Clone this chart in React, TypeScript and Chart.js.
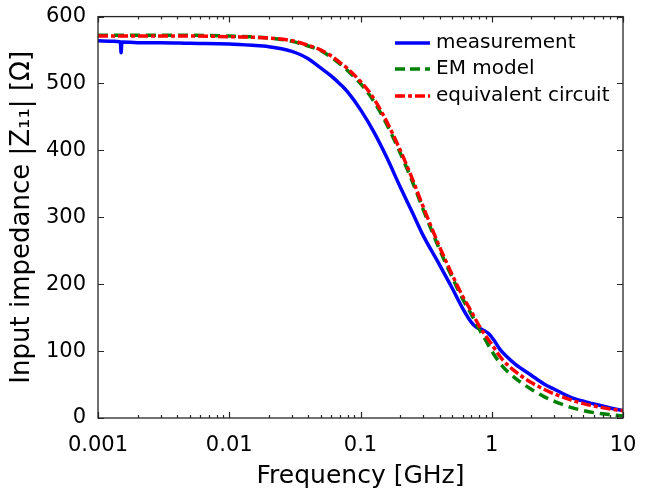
import React, { useEffect, useRef } from "react";
import { Chart, registerables } from "chart.js";

Chart.register(...registerables);

// ---- data ----
const measFreq = [0.001, 0.0013, 0.00148, 0.0015, 0.00152, 0.002, 0.003, 0.005, 0.01, 0.015, 0.02, 0.025, 0.03, 0.035, 0.04, 0.05, 0.06, 0.07, 0.08, 0.1, 0.126, 0.158, 0.2, 0.25, 0.3, 0.4, 0.5, 0.6, 0.7, 0.76, 0.85, 0.95, 1.05, 1.15, 1.3, 1.5, 2.0, 2.5, 3.0, 4.0, 5.0, 6.0, 8.0, 10];
const measZ = [564, 563, 562, 546, 562, 561, 561, 560, 559, 557, 555, 552, 548, 543, 537, 523, 511, 499, 487, 461, 428, 390, 346, 306, 273, 229, 194, 164, 143, 136, 132, 126, 115, 103, 92, 81, 64, 51, 43, 31, 25, 21, 15, 11];

const emFreq = [0.001, 0.005, 0.01, 0.02, 0.03, 0.04, 0.05, 0.06, 0.07, 0.08, 0.1, 0.12, 0.15, 0.2, 0.25, 0.3, 0.4, 0.5, 0.6, 0.7, 0.8, 0.9, 1.0, 1.2, 1.5, 2.0, 2.5, 3.0, 4.0, 5.0, 6.5, 8.0, 10];
const emZ = [572, 572, 571, 568, 563, 556, 549, 539, 529, 519, 500, 480, 448, 397, 352, 312, 252, 210, 178, 155, 133, 116, 100, 78, 60, 43, 32, 25, 16, 11, 7, 5, 3];

const eqFreq = [0.001, 0.005, 0.01, 0.02, 0.03, 0.04, 0.05, 0.06, 0.07, 0.08, 0.1, 0.12, 0.15, 0.2, 0.25, 0.3, 0.4, 0.5, 0.6, 0.7, 0.8, 1.0, 1.2, 1.5, 2.0, 2.5, 3.0, 4.0, 5.0, 6.5, 8.0, 10];
const eqZ = [571, 571, 570, 568, 564, 557, 550, 541, 531, 522, 503, 484, 452, 401, 356, 316, 256, 214, 182, 159, 138, 110, 88, 70, 53, 43, 36, 27, 21.5, 16.5, 13.5, 11];

const xTickValues = [0.001, 0.01, 0.1, 1, 10];
const xTickLabels = ["0.001", "0.01", "0.1", "1", "10"];
const yTickValues = [0, 100, 200, 300, 400, 500, 600];

const seriesNames = ["measurement", "EM model", "equivalent circuit"];
const seriesColors = ["#0000ff", "#008000", "#ff0000"];

const FONT = "'DejaVu Sans', Verdana, sans-serif";

const framePlugin = {
  id: "frame",
  afterDatasetsDraw(chart: any) {
    const { ctx, chartArea, scales } = chart;
    const { left, right, top, bottom } = chartArea;
    const x = scales.x;
    const y = scales.y;
    ctx.save();
    ctx.strokeStyle = "#262626";
    ctx.lineWidth = 1.3;
    ctx.strokeRect(left, top, right - left, bottom - top);
    ctx.beginPath();
    for (let d = -3; d <= 1; d++) {
      for (let k = 1; k <= 9; k++) {
        const v = k * Math.pow(10, d);
        if (v > 10.0001) break;
        const px = Math.round(x.getPixelForValue(v)) + 0.5;
        const len = k === 1 ? 6 : 3;
        ctx.moveTo(px, bottom);
        ctx.lineTo(px, bottom - len);
        ctx.moveTo(px, top);
        ctx.lineTo(px, top + len);
      }
    }
    for (const v of yTickValues) {
      const py = Math.round(y.getPixelForValue(v)) + 0.5;
      ctx.moveTo(left, py);
      ctx.lineTo(left + 6, py);
      ctx.moveTo(right, py);
      ctx.lineTo(right - 6, py);
    }
    ctx.lineWidth = 1.2;
    ctx.stroke();
    ctx.restore();
  },
  afterDraw(chart: any) {
    const { ctx } = chart;
    ctx.save();
    const rows = [43, 69, 96];
    const dashes = [[], [10, 5], [10, 3, 4, 3]];
    ctx.font = `20px ${FONT}`;
    ctx.textBaseline = "middle";
    ctx.fillStyle = "#000";
    for (let i = 0; i < 3; i++) {
      ctx.beginPath();
      ctx.setLineDash(dashes[i]);
      ctx.strokeStyle = seriesColors[i];
      ctx.lineWidth = 3.5;
      ctx.moveTo(395, rows[i]);
      ctx.lineTo(430, rows[i]);
      ctx.stroke();
      ctx.setLineDash([]);
      ctx.fillText(seriesNames[i], 436, rows[i]);
    }
    ctx.restore();
  },
};

export default function App() {
  const ref = useRef<HTMLCanvasElement | null>(null);
  useEffect(() => {
    document.body.style.margin = "0";
    const canvas = ref.current;
    if (!canvas) return;
    const mk = (f: number[], z: number[]) => f.map((v, i) => ({ x: v, y: z[i] }));
    const chart = new Chart(canvas, {
      type: "line",
      data: {
        datasets: [
          {
            label: seriesNames[0],
            data: mk(measFreq, measZ),
            borderColor: seriesColors[0],
            borderWidth: 3.5,
            pointRadius: 0,
            cubicInterpolationMode: "monotone",
            order: 2,
          },
          {
            label: seriesNames[1],
            data: mk(emFreq, emZ),
            borderColor: seriesColors[1],
            borderWidth: 3.5,
            borderDash: [10, 6],
            pointRadius: 0,
            cubicInterpolationMode: "monotone",
            order: 1,
          },
          {
            label: seriesNames[2],
            data: mk(eqFreq, eqZ),
            borderColor: seriesColors[2],
            borderWidth: 3.5,
            borderDash: [10, 3, 4, 3],
            pointRadius: 0,
            cubicInterpolationMode: "monotone",
            order: 0,
          },
        ],
      },
      options: {
        animation: false,
        responsive: false,
        devicePixelRatio: 1,
        layout: { padding: { left: 0, top: 15, right: 25, bottom: 0 } },
        plugins: { legend: { display: false }, tooltip: { enabled: false } },
        scales: {
          x: {
            type: "logarithmic",
            min: 0.001,
            max: 10,
            grid: { display: false },
            border: { display: false },
            afterBuildTicks: (s: any) => {
              s.ticks = xTickValues.map((v) => ({ value: v }));
            },
            afterFit: (s: any) => {
              s.height = 72;
            },
            ticks: {
              autoSkip: false,
              maxRotation: 0,
              padding: 7,
              color: "#000",
              font: { family: FONT, size: 21 },
              callback: (v: any) => {
                const i = xTickValues.findIndex((t) => Math.abs(t - Number(v)) / t < 1e-6);
                return i >= 0 ? xTickLabels[i] : "";
              },
            },
            title: {
              display: true,
              text: "Frequency [GHz]",
              color: "#000",
              font: { family: FONT, size: 25, lineHeight: 1 },
              padding: { top: 0, bottom: 1 },
            },
          },
          y: {
            type: "linear",
            min: 0,
            max: 600,
            grid: { display: false },
            border: { display: false },
            afterBuildTicks: (s: any) => {
              s.ticks = yTickValues.map((v) => ({ value: v }));
            },
            afterFit: (s: any) => {
              s.width = 98;
            },
            ticks: {
              padding: 4,
              color: "#000",
              font: { family: FONT, size: 21 },
            },
            title: {
              display: true,
              text: "Input impedance |Z₁₁| [Ω]",
              color: "#000",
              font: { family: FONT, size: 26, lineHeight: 1.2 },
              padding: { top: 7, bottom: 0 },
            },
          },
        },
      },
      plugins: [framePlugin],
    } as any);
    return () => chart.destroy();
  }, []);
  return (
    <div style={{ width: 648, height: 490 }}>
      <canvas ref={ref} width={648} height={490} style={{ display: "block" }} />
    </div>
  );
}
